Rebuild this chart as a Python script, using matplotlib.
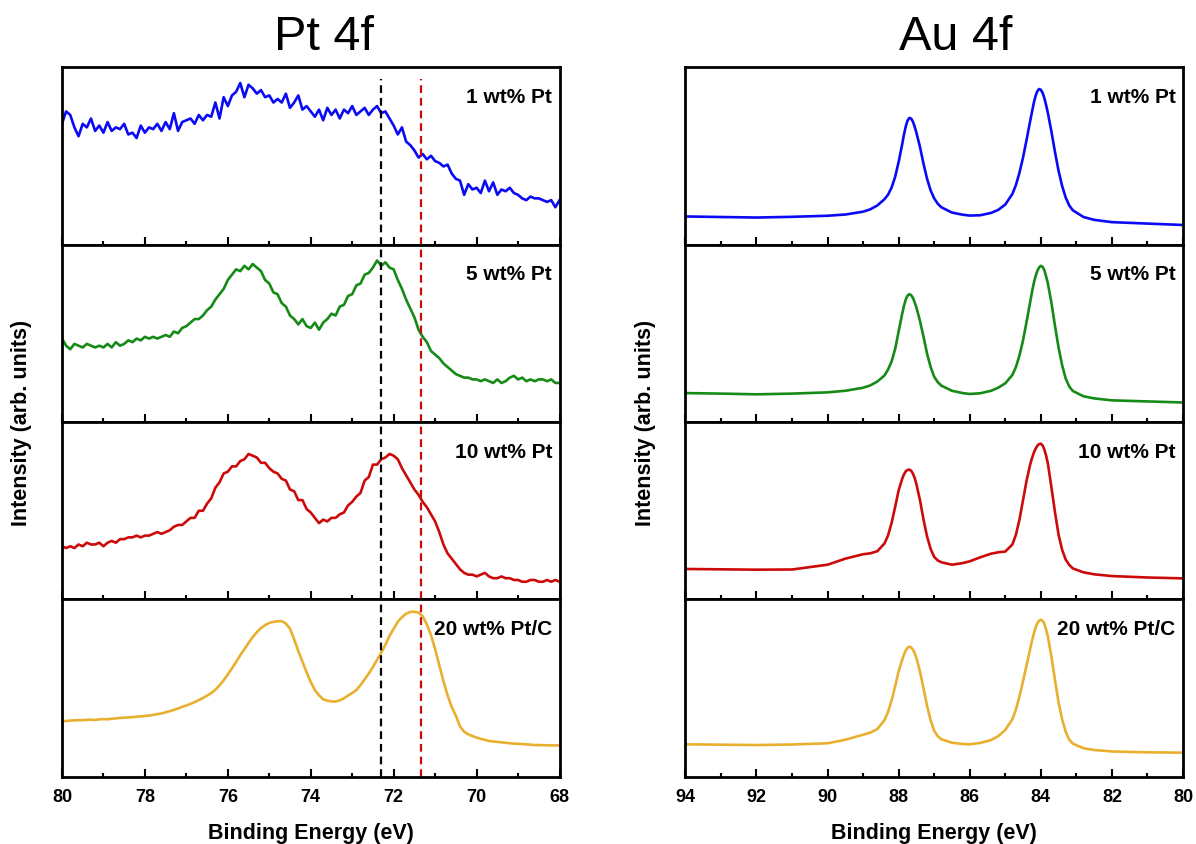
import numpy as np
import matplotlib
matplotlib.use("Agg")
import matplotlib.pyplot as plt

plt.rcParams['font.family'] = ['Liberation Sans', 'DejaVu Sans']

# ---- data (arbitrary units 0-100 per panel) ----
samples = ['1 wt% Pt', '5 wt% Pt', '10 wt% Pt', '20 wt% Pt/C']
colors = ['#0A0AF5', '#168A16', '#CC0A0A', '#E8B02E']

# Pt 4f: 80.0 -> 68.0 eV in 0.1 eV steps
pt_energy = np.linspace(80.0, 68.0, 121)

pt_1 = [68, 75, 73, 66, 61, 68, 66, 71, 64, 67,
        63, 69, 64, 66, 65, 68, 62, 63, 60, 67,
        63, 66, 65, 68, 64, 69, 65, 74, 64, 69,
        70, 71, 68, 73, 70, 73, 72, 80, 71, 83,
        78, 84, 86, 91, 83, 90, 88, 85, 87, 83,
        84, 80, 82, 80, 85, 77, 80, 84, 76, 78,
        75, 72, 76, 70, 77, 73, 76, 71, 76, 74,
        78, 73, 75, 77, 73, 76, 78, 74, 75, 71,
        67, 62, 66, 58, 56, 53, 49, 51, 48, 50,
        47, 46, 44, 45, 40, 37, 36, 28, 34, 31,
        32, 29, 36, 30, 35, 28, 31, 30, 32, 29,
        28, 26, 25, 27, 26, 26, 25, 24, 25, 21,
        25]

pt_5 = [47, 43, 41, 44, 43, 42, 44, 43, 42, 43,
        42, 44, 42, 45, 43, 44, 46, 45, 47, 46,
        48, 47, 48, 47, 48, 49, 48, 51, 50, 53,
        54, 56, 58, 58, 60, 63, 65, 69, 72, 75,
        80, 83, 86, 85, 88, 86, 89, 87, 85, 80,
        78, 73, 72, 67, 65, 60, 58, 55, 58, 54,
        53, 56, 52, 56, 58, 61, 60, 65, 66, 71,
        72, 77, 78, 83, 84, 87, 91, 88, 90, 87,
        86, 80, 75, 69, 64, 59, 52, 48, 45, 40,
        38, 36, 33, 31, 29, 27, 26, 25, 25, 24,
        24, 23, 24, 23, 22, 24, 22, 23, 25, 26,
        24, 25, 23, 24, 23, 24, 24, 23, 24, 22,
        22]

pt_10 = [30, 29, 30, 29, 31, 30, 32, 31, 31, 32,
         30, 32, 33, 32, 34, 34, 35, 35, 36, 35,
         36, 36, 37, 38, 37, 38, 39, 41, 42, 42,
         44, 46, 46, 50, 50, 54, 57, 63, 66, 71,
         72, 75, 75, 78, 79, 82, 81, 80, 77, 77,
         74, 72, 71, 68, 67, 62, 61, 56, 56, 51,
         49, 46, 43, 45, 44, 46, 46, 48, 49, 53,
         55, 58, 60, 67, 69, 76, 76, 79, 80, 82,
         81, 79, 74, 70, 66, 62, 59, 55, 52, 48,
         44, 38, 31, 26, 23, 20, 17, 15, 14, 14,
         13, 14, 15, 13, 12, 12, 13, 12, 12, 11,
         11, 10, 10, 11, 11, 10, 10, 11, 10, 11,
         10]

pt_20 = [31.7, 31.5, 31.8, 31.9, 32.0, 32.0, 32.2, 32.3, 32.1, 32.5,
         32.6, 32.5, 32.8, 33.0, 33.3, 33.4, 33.6, 33.7, 34.0, 34.1,
         34.4, 34.6, 35.0, 35.4, 35.8, 36.4, 37.1, 37.8, 38.6, 39.5,
         40.3, 41.2, 42.2, 43.3, 44.5, 45.8, 47.3, 49.2, 51.6, 54.5,
         57.8, 61.2, 64.8, 68.6, 72.0, 75.5, 78.8, 81.6, 83.9, 85.6,
         86.8, 87.4, 87.7, 87.8, 86.5, 83.5, 77.5, 71.0, 65.0, 59.0,
         53.5, 49.0, 46.0, 43.8, 43.0, 42.6, 42.5, 43.2, 44.3, 45.9,
         47.3, 49.0, 51.8, 55.0, 58.3, 62.0, 66.0, 70.0, 74.5, 79.5,
         83.5, 87.5, 90.0, 92.0, 93.0, 93.1, 92.6, 90.5, 86.0, 80.0,
         72.0, 63.0, 54.0, 46.0, 39.5, 34.5, 28.5, 25.5, 24.0, 23.1,
         22.2, 21.5, 20.9, 20.3, 20.0, 19.8, 19.5, 19.3, 19.0, 18.8,
         18.7, 18.6, 18.4, 18.2, 18.0, 18.0, 17.9, 17.9, 17.8, 17.8,
         17.8]

# Au 4f: sampled finer near the two peaks
au_energy = [94, 93, 92, 91, 90,
             89.5, 89,
             88.8, 88.6, 88.4, 88.3, 88.2, 88.1, 88.0,
             87.9, 87.85, 87.8, 87.75, 87.7, 87.65, 87.6, 87.55, 87.5,
             87.4, 87.3, 87.2, 87.1, 87.0, 86.9, 86.8,
             86.5, 86.2, 86.0, 85.7, 85.4, 85.2, 85.0,
             84.8, 84.7, 84.6, 84.5, 84.4, 84.3,
             84.25, 84.2, 84.15, 84.1, 84.05, 84.0, 83.95, 83.9, 83.85, 83.8,
             83.7, 83.6, 83.5, 83.4, 83.3, 83.2, 83.1,
             82.8, 82.5, 82, 81, 80]

au_1 = [15.8, 15.5, 15.2, 15.6, 16.2,
        16.9, 18.5,
        19.8, 22.0, 25.5, 28.0, 32.0, 38.0, 46.5,
        56.5, 62.0, 66.5, 69.8, 71.3, 71.0, 69.3, 66.5, 63.0,
        55.0, 45.5, 37.0, 30.5, 26.0, 23.0, 21.0,
        18.0, 16.8, 16.3, 16.5, 17.8, 19.5, 22.5,
        28.5, 33.5, 40.5, 49.0, 59.0, 69.5,
        74.5, 79.5, 83.5, 86.3, 87.6, 87.2, 85.5, 82.5, 78.5, 74.0,
        63.5, 52.0, 41.5, 33.0, 26.5, 22.0, 19.3,
        15.5, 13.9, 12.6, 11.8, 11.0]

au_5 = [16.3, 16.0, 15.6, 16.0, 16.7,
        17.6, 19.3,
        20.6, 22.8, 26.2, 29.5, 34.0, 41.0, 51.0,
        61.0, 65.5, 69.0, 71.2, 72.0, 71.5, 70.0, 67.5, 64.5,
        57.0, 48.0, 38.5, 31.0, 25.5, 22.5, 20.5,
        17.6, 16.3, 15.8, 16.2, 17.6, 19.3, 21.8,
        26.5, 31.0, 37.5, 46.0, 56.5, 67.5,
        73.0, 78.0, 82.0, 85.0, 87.0, 88.0, 87.5, 85.5, 82.0, 78.0,
        67.0, 54.0, 42.0, 32.0, 24.5, 20.0, 17.5,
        14.5, 13.3, 12.2, 11.6, 11.0]

au_10 = [17.2, 17.0, 16.8, 16.9, 19.6,
         23.0, 25.5,
         26.0, 27.2, 31.5, 36.0, 43.0, 52.0, 61.5,
         68.0, 70.5, 72.2, 73.0, 73.2, 72.6, 71.0, 68.5, 65.0,
         56.0, 45.0, 35.5, 28.5, 24.0, 22.0, 21.0,
         19.6, 20.5, 21.5, 23.8, 25.8, 26.6, 27.0,
         31.0, 36.5, 45.0, 56.0, 67.0, 76.0,
         79.5, 82.5, 84.8, 86.5, 87.6, 87.8, 86.8, 84.5, 81.0, 76.5,
         63.0, 49.0, 36.5, 28.0, 22.5, 19.5, 17.5,
         15.3, 14.2, 13.2, 12.4, 11.9]

au_20 = [18.4, 18.2, 18.0, 18.3, 19.0,
         21.0, 23.8,
         25.0, 27.0, 32.0, 36.5, 43.0, 51.0, 59.5,
         66.0, 69.0, 71.3, 72.8, 73.4, 73.0, 71.8, 69.8, 67.0,
         59.5, 50.0, 40.0, 32.0, 26.0, 23.0, 21.3,
         19.3, 18.6, 18.4, 19.2, 20.8, 23.0, 26.5,
         32.5, 38.0, 45.5, 54.0, 63.0, 72.0,
         76.5, 80.5, 84.0, 86.5, 88.0, 88.6, 88.0, 86.3, 83.0, 79.0,
         67.5, 54.5, 42.0, 32.5, 25.5, 21.0, 18.8,
         16.2, 15.2, 14.4, 13.9, 13.7]

pt_series = [pt_1, pt_5, pt_10, pt_20]
au_series = [au_1, au_5, au_10, au_20]

pt_metal = 71.35   # red dashed reference
pt_shift = 72.3    # black dashed reference

# ---- figure ----
fig, axes = plt.subplots(4, 2, figsize=(11.96, 8.45), dpi=100)
fig.subplots_adjust(left=0.0518, right=0.9891, top=0.9195, bottom=0.0793,
                    hspace=0, wspace=0.253)

for i in range(4):
    for j, (energy, series, lim, ticks) in enumerate([
            (pt_energy, pt_series, (80, 68), np.arange(80, 67, -2)),
            (au_energy, au_series, (94, 80), np.arange(94, 79, -2))]):
        ax = axes[i, j]
        ax.plot(energy, series[i], color=colors[i], lw=1.9)
        ax.set_xlim(*lim)
        ax.set_ylim(0, 100)
        ax.set_yticks([])
        ax.set_xticks(ticks)
        ax.set_xticks(np.arange(lim[1], lim[0] + 1, 1), minor=True)
        ax.tick_params(axis='x', which='both', direction='in', top=False,
                       width=1.5)
        ax.tick_params(axis='x', which='major', length=6)
        ax.tick_params(axis='x', which='minor', length=3)
        for s in ax.spines.values():
            s.set_linewidth(2.0)
        ax.text(0.985, 0.836, samples[i], transform=ax.transAxes,
                ha='right', va='center', fontsize=15, fontweight='bold')
        if i < 3:
            ax.tick_params(axis='x', which='both', labelbottom=False)
        else:
            ax.tick_params(axis='x', which='major', labelsize=13, pad=8)
            for lab in ax.get_xticklabels():
                lab.set_fontweight('bold')
            ax.set_xlabel('Binding Energy (eV)', fontsize=15.5,
                          fontweight='bold', labelpad=12)

    # dashed reference lines through the Pt panels
    ax = axes[i, 0]
    top = 0.93 if i == 0 else 1.0
    ax.axvline(pt_shift, ymax=top, color='black', lw=1.6,
               linestyle=(0, (3.5, 2.2)))
    ax.axvline(pt_metal, ymax=top, color='#CC0A0A', lw=1.6,
               linestyle=(0, (3.5, 2.2)))

fig.text(22 / 1196, 0.5, 'Intensity (arb. units)', rotation=90,
         ha='center', va='center', fontsize=15.5, fontweight='bold')
fig.text(645 / 1196, 0.5, 'Intensity (arb. units)', rotation=90,
         ha='center', va='center', fontsize=15.5, fontweight='bold')

fig.text(324 / 1196, 1 - 50 / 845, 'Pt 4f', ha='center', va='baseline',
         fontsize=35)
fig.text(956 / 1196, 1 - 50 / 845, 'Au 4f', ha='center', va='baseline',
         fontsize=35)

fig.savefig('out.png', dpi=100)
